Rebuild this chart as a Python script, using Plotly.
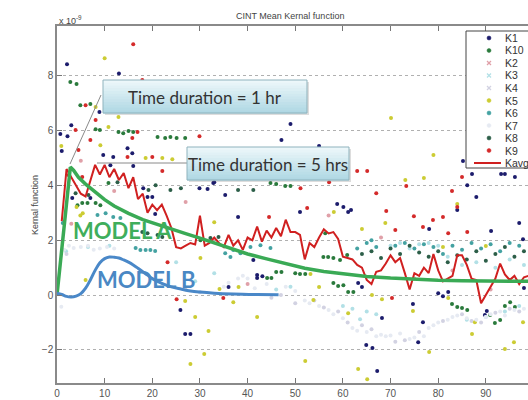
import plotly.graph_objects as go

# ---- data (kernel values in units of 1e-9) ----
avg_steps = list(range(1, 100))
k_avg = [2.7, 4.6, 4.3, 4.0, 3.7, 3.6, 4.2, 4.75, 4.4, 4.75,
         4.3, 4.6, 4.2, 4.45, 3.9, 4.3, 3.5, 3.7, 3.0, 3.3,
         3.1, 3.3, 2.9, 2.45, 1.75, 1.7, 1.8, 1.9, 1.85, 2.9,
         1.8, 1.9, 2.1, 1.9, 1.75, 2.2, 1.8, 2.0, 1.65, 2.1,
         2.0, 2.5, 1.95, 2.35, 2.1, 2.45, 2.15, 2.75, 2.3, 2.3,
         2.2, 1.3, 1.9, 1.75, 2.1, 2.4, 2.25, 2.3, 2.05, 1.4,
         1.35, 1.3, 1.1, 1.0, 0.55, 0.4, 0.85, 0.9, 1.15, 1.45,
         1.2, 1.35, 0.8, 0.2, 0.8, 0.7, 1.0, 0.8, 1.5, 0.9,
         0.5, 0.6, 0.7, 1.45, 1.45, 1.1, 0.6, 0.55, -0.3, 0.0,
         0.3, 0.6, 1.15, 0.75, 0.55, 0.7, 0.4, 0.65, 0.7]

model_a_x = [0, 0.5, 1, 1.5, 2, 2.5, 2.8, 3.5, 4.5, 6, 8, 10, 12, 15, 18, 21, 24, 27, 30,
             33, 36, 40, 44, 48, 52, 56, 60, 65, 70, 75, 80, 85, 90, 95, 100]
model_a_y = [0, 0.8, 1.6, 2.5, 3.4, 4.2, 4.67, 4.55, 4.3, 4.05, 3.75, 3.48, 3.25, 2.98, 2.75,
             2.57, 2.4, 2.24, 2.08, 1.9, 1.72, 1.5, 1.32, 1.14, 0.98, 0.86, 0.77, 0.68, 0.62,
             0.57, 0.54, 0.52, 0.51, 0.5, 0.5]

model_b_x = [0, 1, 2, 3, 4, 5, 6, 7, 8, 9, 10, 11, 12, 13, 14, 15, 16, 17, 18, 19, 20,
             22, 24, 26, 28, 30, 33, 37, 42, 46.5]
model_b_y = [0.07, 0.02, -0.05, -0.07, -0.04, 0.05, 0.25, 0.55, 0.9, 1.18, 1.33, 1.39, 1.38,
             1.35, 1.28, 1.2, 1.1, 0.98, 0.85, 0.73, 0.6, 0.43, 0.3, 0.22, 0.15, 0.11, 0.07,
             0.04, 0.02, 0.01]

k1_x = [2.1, 13.0, 8.9, 3.0, 0.7, 2.2, 1.0, 14.8, 9.7, 16.0, 29.9, 31.6, 32.8, 49.0, 47.1,
        55.0, 85.2, 87.1, 93.2, 94.0, 96.1, 86.1, 88.0, 84.0, 78.1, 91.1, 97.0, 97.8, 80.0,
        81.0, 82.1, 90.2, 74.7, 68.2, 76.8, 75.8, 64.9, 66.2, 67.2, 25.9, 26.9, 28.0, 36.0,
        42.0, 43.1, 63.2, 64.0, 3.2, 7.0, 11.8, 15.8, 18.1, 19.0, 20.0, 33.0, 38.0, 51.0,
        60.1, 61.1, 58.8, 61.7, 42.0, 89.8, 98.0, 41.2, 20.6, 35.3, 11.2]
k1_y = [8.42, 8.09, 6.68, 6.2, 5.88, 5.8, 5.26, 5.36, 5.11, 4.71, 3.9, 3.87, 4.09, 6.24, 5.66,
        5.44, 4.89, 4.42, 4.42, 4.42, 4.31, 4.01, 3.58, 3.1, 2.41, 2.34, 2.63, 2.04, 0.07,
        -0.04, 0.11, -0.58, -0.33, -0.84, -0.99, -1.72, -1.82, -1.93, -2.77, -0.55, -1.42,
        -1.42, 0.29, 0.73, 0.69, 0.44, 0.29, 3.54, 3.54, 5.04, 5.18, 3.9, 3.58, 3.58, 4.12,
        2.85, 3.03, 3.21, 3.03, 3.32, 3.1, 0.62, -0.73, 0.26, 1.28, 2.96, 3.65, 4.74]

k10_x = [2.8, 4.1, 4.9, 7.0, 8.1, 9.0, 12.9, 13.9, 15.0, 16.0, 21.1, 22.7, 23.8, 25.1, 26.9,
         44.8, 46.0, 47.9, 49.0, 4.3, 5.3, 6.4, 8.1, 9.1, 10.8, 50.0, 51.0, 52.1, 58.0, 59.0,
         60.1, 61.1, 62.2, 82.9, 84.0, 85.0, 86.1, 90.9, 91.9, 93.0, 94.0, 95.1, 96.1, 44.1,
         45.0, 46.0, 47.1, 30.1, 56.3, 55.9, 56.9, 58.0, 59.4, 60.9]
k10_y = [7.78, 7.7, 6.93, 6.97, 6.05, 6.02, 5.95, 5.91, 5.99, 5.95, 5.77, 5.73, 5.77, 5.73, 5.73,
         4.09, 4.05, 3.98, 3.98, 3.28, 3.36, 3.36, 3.36, 3.28, 4.09, 0.8, 0.77, 0.77, 0.44, 0.33,
         0.36, 0.11, 0.11, -0.33, -0.44, -0.47, -0.55, -0.73, -1.02, -0.91, -0.4, -0.26, -0.44,
         0.62, 0.62, 0.84, 0.84, 2.0, 2.26, 1.39, 1.39, 1.35, 1.28, 1.46]

k2_x = [3.0, 5.0, 12.0, 22.0, 27.0, 40.0, 57.0, 68.0, 75.0, 83.0, 91.0]
k2_y = [2.6, 4.9, 3.8, 2.5, 3.4, 0.4, 2.9, 2.1, 0.6, 0.9, 0.2]

k3_x = [1.9, 6.5, 11.0, 25.0, 29.0, 33.0, 46.0, 49.0, 60.0, 62.0, 63.6, 65.0, 67.0, 70.0, 72.0,
        74.0, 76.0, 78.0, 80.0, 82.0, 85.0, 88.0, 92.0, 95.0, 98.0, 86.0, 90.0, 94.0, 97.0]
k3_y = [1.6, 1.75, 1.8, 1.2, 0.5, 0.8, 0.2, 0.3, -0.4, -0.5, -0.88, -0.6, -0.7, 1.8, 1.9,
        1.7, 1.85, 1.9, 1.8, 1.4, 1.1, 1.2, 1.0, 1.3, 1.1, -0.9, -0.8, -0.6, -0.4]

k4_x = [2.0, 27.0, 30.0, 45.0, 47.0, 50.0, 54.0, 56.0, 59.0, 61.0, 64.0, 66.0, 71.0, 73.0,
        76.0, 81.0, 85.0, 87.0, 89.0, 92.0, 95.0, 97.0]
k4_y = [1.5, 0.2, 0.1, -0.1, 0.0, -0.3, -0.2, -0.45, -0.6, -1.0, -1.1, -1.25, -1.7, -1.65,
        -1.35, -0.95, -0.7, -0.95, -1.0, -0.65, -0.5, -0.6]

k5_x = [10.0, 8.1, 12.9, 10.8, 0.9, 9.1, 24.2, 22.1, 70.1, 79.0, 73.1, 77.0, 84.0, 68.9, 64.0,
        90.0, 81.0, 82.1, 74.7, 78.1, 65.1, 94.0, 95.9, 87.1, 87.7, 97.8, 66.1, 68.2, 31.8,
        30.9, 42.0, 52.1, 63.2, 37.0, 34.1, 38.1, 53.2, 55.0, 53.8, 61.1, 26.9, 29.0, 28.0,
        6.0, 4.1, 5.4, 33.0, 58.1, 30.1, 18.6, 4.9]
k5_y = [8.64, 6.86, 6.5, 6.13, 5.44, 5.47, 4.96, 5.0, 6.46, 5.11, 4.2, 4.27, 3.32, 2.63, 2.41,
        1.79, 1.75, -0.11, -0.58, -2.08, -3.07, -1.97, -1.72, -1.42, -0.99, -0.99, 0.0, -0.15,
        -1.31, -2.15, -0.8, -2.41, -2.7, -0.26, 0.22, 0.29, 0.77, 0.29, -0.18, -0.66, -0.22,
        -0.8, -2.52, 0.55, 3.21, 2.99, 2.66, 3.03, 1.35, 5.0, 2.9]

k6_x = [8.5, 10.2, 11.8, 13.3, 16.5, 17.5, 18.6, 19.6, 20.6, 1.2, 36.4, 38.5, 40.6, 42.7, 44.8,
        35.3, 37.0, 63.0, 65.0, 66.0, 67.0, 71.0, 73.0, 75.0, 77.0, 79.0, 81.0, 83.0, 85.0,
        87.0, 89.0, 91.0, 93.0, 95.0, 97.0]
k6_y = [2.92, 2.99, 2.85, 2.81, 1.72, 1.64, 1.64, 1.64, 1.61, 2.63, 1.39, 1.53, 1.75, 1.82,
        1.72, 1.53, 1.64, 1.7, 1.9, 2.0, 1.75, 1.8, 1.9, 1.7, 1.85, 1.75, 1.5, 1.8, 1.65, 1.9,
        1.7, 1.85, 1.6, 1.9, 1.8]

k7_x = [0.9, 1.5, 2.5, 3.5, 5.0, 6.5, 7.7, 9.0, 10.5, 12.0, 35.0, 36.0, 38.0, 39.0, 40.0,
        41.5, 44.0, 48.0, 50.0, 52.0, 53.0, 55.0, 57.0, 58.0, 60.0, 62.0, 63.0, 65.0, 67.0,
        68.0, 69.0, 70.0, 72.0, 74.0, 75.0, 77.0, 78.0, 79.0, 80.0, 82.0, 83.0, 84.0, 86.0,
        88.0, 90.0, 91.0, 93.0, 94.0, 96.0, 98.0]
k7_y = [-0.43, 1.65, 1.8, 1.72, 1.75, 1.8, 1.65, 1.7, 1.75, 1.7, 0.3, 0.45, 0.6, 0.7, 0.6,
        0.25, 0.4, 0.3, 0.15, -0.2, -0.3, -0.4, -0.55, -0.7, -0.85, -1.2, -1.3, -1.35, -1.5,
        -1.45, -1.5, -1.48, -1.4, -1.6, -1.55, -1.5, -1.2, -1.1, -1.0, -0.9, -0.8, -0.75,
        -0.85, -0.9, -0.8, -0.7, -0.6, -0.75, -0.55, -0.5]

k8_x = [64.0, 66.0, 68.0, 70.0, 72.0, 74.0, 76.0, 78.0, 80.0, 82.0, 84.0, 86.0, 88.0, 90.0,
        92.0, 94.0, 96.0, 98.0, 3.9, 6.6, 12.7, 17.9, 19.0, 21.1, 22.1, 32.2, 33.9, 38.0,
        41.2, 19.2, 20.7, 23.8, 26.0]
k8_y = [1.5, 1.6, 1.35, 1.7, 1.5, 1.8, 1.55, 1.4, 1.6, 1.2, 1.45, 1.3, 1.6, 1.25, 1.5, 1.75,
        1.4, 1.6, 3.72, 3.65, 4.12, 2.3, 2.26, 2.19, 2.12, 2.08, 2.12, 3.83, 3.83, 3.83, 4.01,
        3.83, 3.9]

k9_x = [16.0, 17.9, 6.0, 8.1, 3.9, 16.9, 7.0, 15.8, 4.5, 29.9, 20.0, 22.1, 14.8, 63.0, 65.1,
        57.1, 85.0, 73.3, 82.9, 67.0, 51.1, 84.0, 69.1, 74.9, 78.9, 81.0, 76.8, 71.0, 82.1,
        86.1, 25.1, 34.9, 70.3, 23.2, 44.5, 52.5, 2.4, 5.3]
k9_y = [9.15, 7.85, 6.93, 6.39, 6.02, 5.95, 5.66, 5.73, 5.29, 5.8, 5.04, 4.53, 5.04, 4.53, 4.53,
        4.12, 4.31, 3.98, 3.8, 3.72, 3.9, 3.21, 3.07, 2.88, 2.74, 2.85, 2.48, 2.37, 2.26, 2.3,
        -0.15, -0.11, -0.11, 1.2, 2.85, 3.18, 4.38, 4.31]

series_names = ["K1", "K10", "K2", "K3", "K4", "K5", "K6", "K7", "K8", "K9"]
series_x = [k1_x, k10_x, k2_x, k3_x, k4_x, k5_x, k6_x, k7_x, k8_x, k9_x]
series_y = [k1_y, k10_y, k2_y, k3_y, k4_y, k5_y, k6_y, k7_y, k8_y, k9_y]
series_colors = ["#1c1c6c", "#2a7a3c", "#e0a0a8", "#b2e0e6", "#d2d2e2",
                 "#cccc33", "#44a2a2", "#e6eaf2", "#2c5e48", "#d42a2a"]
series_symbols = ["dot", "dot", "x", "x", "x", "dot", "dot", "dot", "dot", "dot"]

W, H = 528, 400
ML, MT, PR, PB = 57, 26, 528, 383  # plot area edges in pixels


def px(xp, yp):
    """Pixel position on the page -> paper coordinates."""
    return (xp - ML) / (PR - ML), (PB - yp) / (PB - MT)


fig = go.Figure()

for name, xs, ys, col in zip(series_names, series_x, series_y, series_colors):
    fig.add_trace(go.Scatter(x=xs, y=ys, mode="markers", name=name,
                             marker=dict(color=col, size=4), showlegend=False))

fig.add_trace(go.Scatter(x=avg_steps, y=k_avg, mode="lines", name="Kavg",
                         line=dict(color="#d02020", width=2), showlegend=False))
fig.add_trace(go.Scatter(x=model_a_x, y=model_a_y, mode="lines", name="Model A",
                         line=dict(color="#3aaa55", width=3.5), showlegend=False))
fig.add_trace(go.Scatter(x=model_b_x, y=model_b_y, mode="lines", name="Model B",
                         line=dict(color="#4a88c8", width=3, shape="spline"),
                         showlegend=False))

shapes = []
annotations = []


def rect(x0, y0, x1, y1, **kw):
    a = px(x0, y0)
    b = px(x1, y1)
    shapes.append(dict(type="rect", xref="paper", yref="paper",
                       x0=a[0], y0=b[1], x1=b[0], y1=a[1], layer="above", **kw))


def seg(x0, y0, x1, y1, color, width=1):
    a = px(x0, y0)
    b = px(x1, y1)
    shapes.append(dict(type="line", xref="paper", yref="paper",
                       x0=a[0], y0=a[1], x1=b[0], y1=b[1], layer="above",
                       line=dict(color=color, width=width)))


def text(xp, yp, s, size, color, family="Liberation Sans", xanchor="center",
         yanchor="middle", bold=False, angle=0):
    x, y = px(xp, yp)
    annotations.append(dict(xref="paper", yref="paper", x=x, y=y, text=s,
                            showarrow=False, xanchor=xanchor, yanchor=yanchor,
                            textangle=angle,
                            font=dict(size=size, color=color, family=family,
                                      weight="bold" if bold else "normal")))


def mix(c0, c1, t):
    return "#" + "".join(f"{round(a + (b - a) * t):02x}" for a, b in zip(c0, c1))


def callout(x0, y0, x1, y1, label):
    top, bottom = (236, 247, 250), (176, 216, 228)
    n = 12
    h = (y1 - y0) / n
    rect(x0 + 2, y0 + 2, x1 + 2, y1 + 2, fillcolor="rgba(120,120,120,0.25)", line=dict(width=0))
    for i in range(n):
        rect(x0, y0 + i * h, x1, y0 + (i + 1) * h + 0.5,
             fillcolor=mix(top, bottom, i / (n - 1)), line=dict(width=0))
    rect(x0, y0, x1, y1, fillcolor="rgba(0,0,0,0)", line=dict(color="#8fb3bd", width=1))
    text((x0 + x1) / 2, (y0 + y1) / 2 + 1, label, 17, "#333333", family="Lato")


# pointer lines and callout boxes
seg(70, 164, 101, 95, "#8a8a8a", 1)
seg(97, 163, 187, 163, "#8a8a8a", 1)
callout(103, 80, 307, 113, "Time duration = 1 hr")
callout(187, 147, 349, 180, "Time duration = 5 hrs")

# model labels
text(122, 231, "MODEL A", 22, "#3fae5c", family="Lato", bold=True)
text(146, 279, "MODEL B", 22, "#4a88c4", family="Lato", bold=True)

# legend drawn by hand
rect(466, 31, 545, 168, fillcolor="white", line=dict(color="#444444", width=1))
for i, (name, col, sym) in enumerate(zip(series_names, series_colors, series_symbols)):
    yc = 38 + 12.5 * i
    if sym == "dot":
        a = px(487, yc - 2)
        b = px(491, yc + 2)
        shapes.append(dict(type="circle", xref="paper", yref="paper",
                           x0=a[0], y0=b[1], x1=b[0], y1=a[1], layer="above",
                           fillcolor=col, line=dict(color=col, width=0.5)))
    else:
        seg(487, yc - 2, 491, yc + 2, col, 1.2)
        seg(487, yc + 2, 491, yc - 2, col, 1.2)
    text(503, yc, name, 10.5, "#333333", xanchor="left")
yk = 38 + 12.5 * 10
seg(474, yk, 501, yk, "#d02020", 2)
text(503, yk, "Kavg", 10.5, "#333333", xanchor="left")

# titles
text(290, 16, "CINT Mean Kernal function", 9, "#444444")
text(57, 20, "x 10<sup>-9</sup>", 9, "#444444", xanchor="left")
text(35, 205, "Kernal function", 9, "#444444", angle=-90)
text(295, 397, "Steps 0.5 hr", 9, "#444444", yanchor="top")

fig.update_layout(
    width=W, height=H,
    margin=dict(l=ML, r=W - PR, t=MT, b=H - PB, pad=0),
    paper_bgcolor="white", plot_bgcolor="white",
    showlegend=False,
    shapes=shapes, annotations=annotations,
    font=dict(family="Liberation Sans", size=10, color="#555555"),
    xaxis=dict(range=[0, (PR - 56.5) / 4.77], tickvals=list(range(0, 101, 10)),
               ticks="inside", ticklen=5, tickcolor="#777777", showgrid=False,
               zeroline=False, showline=True, linecolor="#8a8a8a", linewidth=1.5,
               mirror="ticks", tickfont=dict(size=10, color="#555555")),
    yaxis=dict(range=[-3.21, 9.82], tickvals=[-2, 0, 2, 4, 6, 8],
               ticks="inside", ticklen=5, tickcolor="#777777", showgrid=True,
               gridcolor="#b0b0b0", griddash="dot", gridwidth=1, zeroline=False,
               showline=True, linecolor="#8a8a8a", linewidth=1.5,
               tickfont=dict(size=10, color="#555555")),
)

fig.write_html("out.html")
